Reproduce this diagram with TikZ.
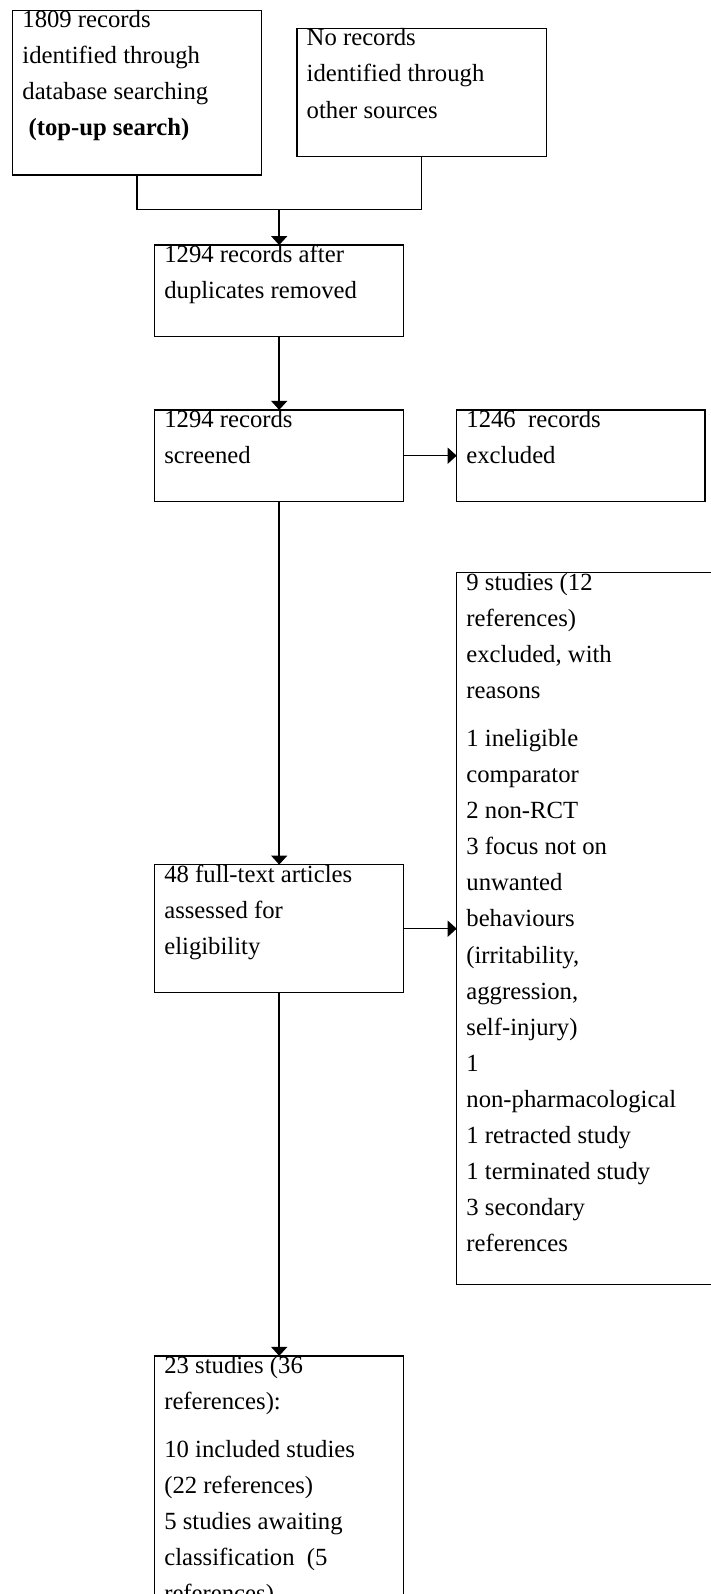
\documentclass[tikz,border=0pt]{standalone}
\usepackage{fontspec}
\setmainfont{Liberation Serif}
\usetikzlibrary{arrows.meta}
\begin{document}
\begin{tikzpicture}[x=1pt,y=-1pt,
  box/.style={draw, line width=1.3pt, anchor=north west, inner sep=0pt, outer sep=0pt},
  txt/.style={anchor=north west, inner sep=0pt, align=left, font=\fontsize{24.7}{36.1}\selectfont},
  conn/.style={line width=1.5pt},
  arr/.style={conn, -{Triangle[length=9pt,width=16pt]}}]
\useasboundingbox (0,0) rectangle (710,1594);
\coordinate (jy) at (0,209.5);
% boxes
\node[box, minimum width=249.2pt, minimum height=164.8pt] (b1) at (12.2,10.2) {};
\node[box, minimum width=249.2pt, minimum height=128.1pt] (b2) at (297,28.5) {};
\node[box, minimum width=249.2pt, minimum height=91.6pt] (b3) at (154.6,245.1) {};
\node[box, minimum width=249.2pt, minimum height=91.6pt] (b4) at (154.6,409.9) {};
\node[box, minimum width=248.2pt, minimum height=91.6pt] (b5) at (456.7,409.9) {};
\node[box, minimum width=249.2pt, minimum height=128.2pt] (b6) at (154.6,864.6) {};
\node[box, minimum width=270pt, minimum height=712pt] (b7) at (456.7,572.7) {};
\node[box, minimum width=249.2pt, minimum height=300pt] (b8) at (154.6,1355.9) {};
% texts
\node[txt] (t1) at ([xshift=10pt]b1.north west) {1809 records\\identified through\\database searching\\\hspace{0.25em}\textbf{(top-up search)}};
\node[txt] (t2) at ([xshift=9.5pt]b2.north west) {No records\\identified through\\other sources};
\node[txt] (t3) at ([xshift=9.5pt]b3.north west) {1294 records after\\duplicates removed};
\node[txt] (t4) at ([xshift=9.5pt]b4.north west) {1294 records\\screened};
\node[txt] (t5) at ([xshift=9.5pt]b5.north west) {1246\ \ records\\excluded};
\node[txt] (t6) at ([xshift=9.5pt]b6.north west) {48 full-text articles\\assessed for\\eligibility};
\node[txt] (t7) at ([xshift=9.5pt]b7.north west) {9 studies (12\\references)\\excluded, with\\reasons\\[12pt]1 ineligible\\comparator\\2 non-RCT\\3 focus not on\\unwanted\\behaviours\\(irritability,\\aggression,\\self-injury)\\1\\non-pharmacological\\1 retracted study\\1 terminated study\\3 secondary\\references};
\node[txt] (t8) at ([xshift=9.5pt]b8.north west) {23 studies (36\\references):\\[12pt]10 included studies\\(22 references)\\5 studies awaiting\\classification\ \ (5\\references)};
% connectors
\draw[conn] (b1.south) -- (b1.south |- jy) -- (b2.south |- jy) -- (b2.south);
\draw[arr] (b3.north |- jy) -- (b3.north);
\draw[arr] (b3.south) -- (b4.north);
\draw[arr] (b4.east) -- (b5.west);
\draw[arr] (b4.south) -- (b6.north);
\draw[arr] (b6.east) -- (b6.east -| b7.west);
\draw[arr] (b6.south) -- (b8.north);
\end{tikzpicture}
\end{document}
